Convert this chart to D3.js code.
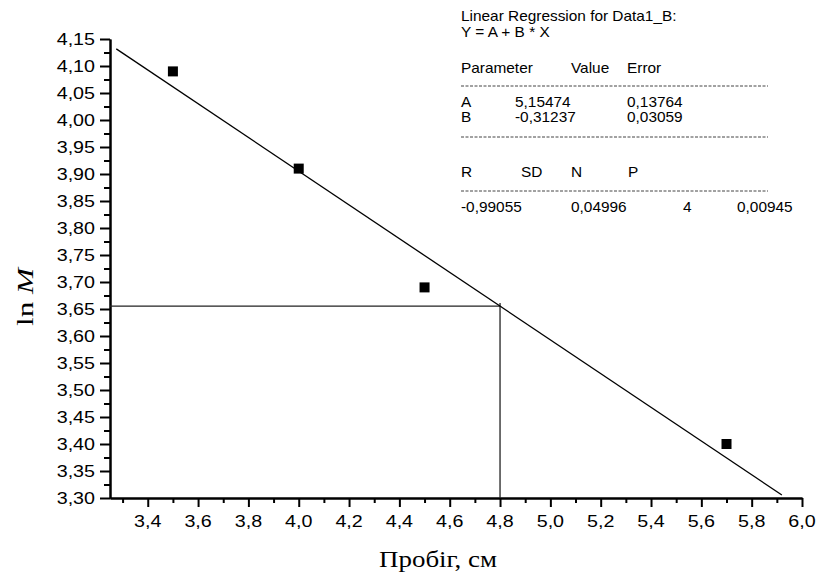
<!DOCTYPE html>
<html>
<head>
  <meta charset="utf-8">
  <title>ln M vs Пробіг</title>
  <script src="https://cdn.jsdelivr.net/npm/d3@7/dist/d3.min.js"></script>
  <style>
    body { margin: 0; background: #fff; }
    svg { display: block; }
  </style>
</head>
<body>
  <svg id="chart" width="817" height="574"></svg>

  <script>
    // measured points
    const xData = [3.5, 4.0, 4.5, 5.7]
    const yData = [4.09, 3.91, 3.69, 3.40]

    // fit Y = A + B * X
    const fitA = 5.15474
    const fitB = -0.31237
    const fitFrom = 3.275
    const fitTo = 5.92
    const xMark = 4.8

    const xMajor = d3.range(13 + 1).map(i => +(3.4 + i * 0.2).toFixed(1))
    const xMinor = d3.range(14).map(i => +(3.3 + i * 0.2).toFixed(1))
    const yMajor = d3.range(17 + 1).map(i => +(3.3 + i * 0.05).toFixed(2))
    const yMinor = d3.range(17).map(i => +(3.325 + i * 0.05).toFixed(3))

    const headLines = ["Linear Regression for Data1_B:", "Y = A + B * X"]
    const paramHeader = ["Parameter", "Value", "Error"]
    const paramRows = [["A", "5,15474", "0,13764"], ["B", "-0,31237", "0,03059"]]
    const statHeader = ["R", "SD", "N", "P"]
    const statRow = ["-0,99055", "0,04996", "4", "0,00945"]

    const svg = d3.select("#chart")
    const x = d3.scaleLinear().domain([3.25, 6.0]).range([110, 802])
    const y = d3.scaleLinear().domain([3.3, 4.15]).range([498, 39])
    const comma = s => s.replace(".", ",")

    // text that is a bit wider than the font (the picture is stretched sideways)
    const label = function (g, px, py, str, opt) {
      const t = g.append("text")
        .attr("transform", `translate(${px},${py}) scale(${opt.sx || 1},1)`)
        .attr("text-anchor", opt.anchor || "start")
        .attr("font-family", opt.family || "'Liberation Sans', Arial, sans-serif")
        .attr("font-size", opt.size)
        .attr("fill", "#000")
        .text(str)
      return t
    }

    // axes: tick lines from d3.axis (one group per tick set), labels drawn by hand
    svg.append("g").attr("transform", "translate(0,498)")
      .call(d3.axisBottom(x).tickValues(xMinor).tickSize(5).tickSizeOuter(0).tickFormat(""))
    svg.append("g").attr("transform", "translate(0,498)")
      .call(d3.axisBottom(x).tickValues(xMajor).tickSize(9).tickSizeOuter(0).tickFormat(""))
    svg.append("g").attr("transform", "translate(110,0)")
      .call(d3.axisLeft(y).tickValues(yMinor).tickSize(6).tickSizeOuter(0).tickFormat(""))
    svg.append("g").attr("transform", "translate(110,0)")
      .call(d3.axisLeft(y).tickValues(yMajor).tickSize(10).tickSizeOuter(0).tickFormat(""))

    svg.selectAll(".domain, .tick line").attr("stroke", "#000").attr("stroke-width", 2)

    xMajor.forEach(v => label(svg, x(v), 527, comma(v.toFixed(1)), { size: 16, sx: 1.23, anchor: "middle" }))
    yMajor.forEach(v => label(svg, 95, y(v) + 6, comma(v.toFixed(2)), { size: 16, sx: 1.23, anchor: "end" }))

    // axis titles
    label(svg, 438, 567, "Пробіг, см", { size: 23, sx: 1.17, anchor: "middle", family: "'Liberation Serif', 'Times New Roman', serif" })
    const yt = svg.append("text")
      .attr("transform", "translate(33,297) rotate(-90) scale(1.3,1)")
      .attr("text-anchor", "middle")
      .attr("font-family", "'Liberation Serif', 'Times New Roman', serif")
      .attr("font-size", 24)
    yt.append("tspan").text("ln ")
    yt.append("tspan").attr("font-style", "italic").text("M")

    // drop lines at x = 4.8
    const yMark = fitA + fitB * xMark
    svg.append("line")
      .attr("x1", x(3.25)).attr("x2", x(xMark))
      .attr("y1", y(yMark)).attr("y2", y(yMark))
      .attr("stroke", "#222").attr("stroke-width", 1.3)
    svg.append("line")
      .attr("x1", x(xMark)).attr("x2", x(xMark))
      .attr("y1", y(yMark) - 3).attr("y2", y(3.3))
      .attr("stroke", "#222").attr("stroke-width", 1.3)

    // fitted line
    svg.append("line")
      .attr("x1", x(fitFrom)).attr("y1", y(fitA + fitB * fitFrom))
      .attr("x2", x(fitTo)).attr("y2", y(fitA + fitB * fitTo))
      .attr("stroke", "#000").attr("stroke-width", 1.3)

    // points
    svg.selectAll("rect.pt")
      .data(xData.map((v, i) => [v, yData[i]]))
      .join("rect")
      .attr("class", "pt")
      .attr("x", d => x(d[0]) - 5)
      .attr("y", d => y(d[1]) - 5)
      .attr("width", 10)
      .attr("height", 10)
      .attr("fill", "#000")

    // regression report
    const rep = svg.append("g")
    const opt = { size: 14, sx: 1.1 }
    label(rep, 461, 21, headLines[0], opt)
    label(rep, 461, 37, headLines[1], opt)

    const pCols = [461, 571, 627]
    paramHeader.forEach((s, i) => label(rep, pCols[i], 73, s, opt))
    const vCols = [461, 515, 627]
    paramRows.forEach((row, r) => row.forEach((s, i) => label(rep, vCols[i], 107 + r * 15, s, opt)))

    const sCols = [461, 521, 571, 628]
    statHeader.forEach((s, i) => label(rep, sCols[i], 177, s, opt))
    const rCols = [461, 571, 683, 737]
    statRow.forEach((s, i) => label(rep, rCols[i], 212, s, opt))

    ;[86, 137, 191].forEach(yy => {
      rep.append("line")
        .attr("x1", 461).attr("x2", 768)
        .attr("y1", yy).attr("y2", yy)
        .attr("stroke", "#444").attr("stroke-width", 1)
        .attr("stroke-dasharray", "3,1.5")
    })
  </script>
</body>
</html>
